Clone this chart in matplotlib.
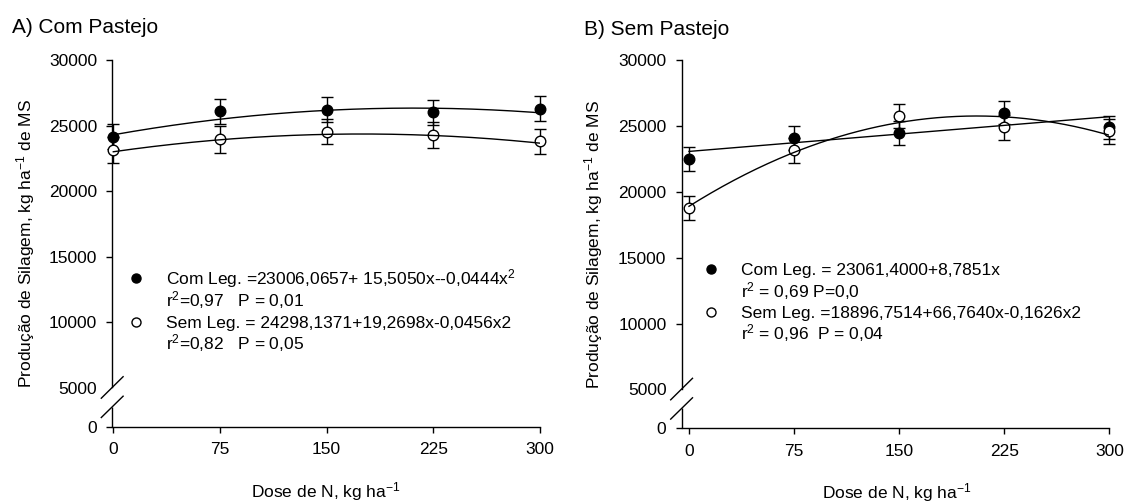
import numpy as np
import matplotlib
matplotlib.use("Agg")
import matplotlib.pyplot as plt
from matplotlib.transforms import Affine2D, ScaledTranslation

plt.rcParams["font.family"] = ["Liberation Sans", "DejaVu Sans"]
plt.rcParams["mathtext.fontset"] = "custom"
plt.rcParams["mathtext.rm"] = "Liberation Sans"
plt.rcParams["mathtext.it"] = "Liberation Sans:italic"
plt.rcParams["mathtext.default"] = "regular"

# ---- data -------------------------------------------------------------
doses = [0, 75, 150, 225, 300]

# A) Com Pastejo
a_com_mean = [24150, 26100, 26200, 26000, 26300]
a_com_err = [950, 950, 950, 950, 960]
a_sem_mean = [23150, 23950, 24550, 24300, 23800]
a_sem_err = [1000, 1010, 990, 990, 970]
a_fit_filled = [24298.1371, 19.2698, -0.0456]   # b0, b1, b2
a_fit_open = [23006.0657, 15.5050, -0.0444]

# B) Sem Pastejo
b_com_mean = [22500, 24050, 24450, 26000, 24900]
b_com_err = [910, 915, 900, 890, 860]
b_sem_mean = [18750, 23150, 25750, 24900, 24600]
b_sem_err = [910, 935, 945, 935, 955]
b_fit_filled = [23061.4000, 8.7851, 0.0]
b_fit_open = [18896.7514, 66.7640, -0.1626]

x_ticks = [0, 75, 150, 225, 300]
y_ticks = [0, 5000, 10000, 15000, 20000, 25000, 30000]

a_legend = [
    "Com Leg. =23006,0657+ 15,5050x--0,0444x$^2$",
    "r$^2$=0,97   P = 0,01",
    "Sem Leg. = 24298,1371+19,2698x-0,0456x2",
    "r$^2$=0,82   P = 0,05",
]
b_legend = [
    "Com Leg. = 23061,4000+8,7851x",
    "r$^2$ = 0,69 P=0,0",
    "Sem Leg. =18896,7514+66,7640x-0,1626x2",
    "r$^2$ = 0,96  P = 0,04",
]

# ---- broken y scale: 0-5000 compressed --------------------------------
K = 0.59


def fwd(y):
    y = np.asarray(y, float)
    return np.where(y >= 5000, y, 5000 - (5000 - y) * K)


def inv(t):
    t = np.asarray(t, float)
    return np.where(t >= 5000, t, 5000 - (5000 - t) / K)


W, H = 1125, 504
fig = plt.figure(figsize=(W / 100, H / 100), dpi=100)


def rect(x0, y_top, x1, y_bot):
    return [x0 / W, 1 - y_bot / H, (x1 - x0) / W, (y_bot - y_top) / H]


axA = fig.add_axes(rect(112.3, 60, 540, 426.7))
axB = fig.add_axes(rect(681.7, 60, 1109.3, 428.3))

FS = 12.5


def style(ax, xleft):
    ax.set_yscale("function", functions=(fwd, inv))
    ax.set_ylim(0, 30000)
    ax.set_xlim(xleft, 300)
    ax.set_xticks(x_ticks, labels=[str(v) for v in x_ticks])
    ax.set_yticks(y_ticks, labels=[str(v) for v in y_ticks])
    ax.minorticks_off()
    for s in ("top", "right"):
        ax.spines[s].set_visible(False)
    ax.spines["left"].set_bounds(5070, 30000)
    for s in ("left", "bottom"):
        ax.spines[s].set_linewidth(1.0)
    ax.tick_params(direction="out", length=4, width=1, colors="black",
                   labelsize=FS)
    ax.tick_params(axis="y", pad=7)
    ax.tick_params(axis="x", pad=7)
    ax.yaxis.get_major_ticks()[1].tick1line.set_visible(False)

    # axis break marks, in pixel offsets from the axes origin
    tr = (Affine2D().scale(1 / 100) + fig.dpi_scale_trans
          + ScaledTranslation(0, 0, ax.transAxes))
    kw = dict(transform=tr, color="black", lw=1.0, clip_on=False,
              solid_capstyle="butt")
    ax.plot([0, 0], [0, 20], **kw)
    ax.plot([-11.5, 11.3], [8.7, 31.0], **kw)
    ax.plot([-11.5, 11.3], [28.0, 50.5], **kw)


def quad(c, x):
    return c[0] + c[1] * x + c[2] * x ** 2


xs = np.linspace(0, 300, 301)


def draw(ax, com_m, com_e, sem_m, sem_e, fit_f, fit_o):
    common = dict(fmt="o", ms=7.6, mec="black", mew=1.0, ecolor="black",
                  elinewidth=1.0, capsize=4.6, capthick=1.0, zorder=3,
                  clip_on=False)
    ax.errorbar(doses, com_m, yerr=com_e, mfc="black", **common)
    ax.errorbar(doses, sem_m, yerr=sem_e, mfc="white", **common)
    ax.plot(xs, quad(fit_f, xs), color="black", lw=1.0, zorder=4)
    ax.plot(xs, quad(fit_o, xs), color="black", lw=1.0, zorder=4)


style(axA, -0.7)
style(axB, -5.2)
draw(axA, a_com_mean, a_com_err, a_sem_mean, a_sem_err, a_fit_filled, a_fit_open)
draw(axB, b_com_mean, b_com_err, b_sem_mean, b_sem_err, b_fit_filled, b_fit_open)


def ftext(x, y, s, **kw):
    fig.text(x / W, 1 - y / H, s, **kw)


def fmark(x, y, face):
    fig.add_artist(plt.Line2D([x / W], [1 - y / H], marker="o", ms=6.5,
                              mfc=face, mec="black", mew=1.0, ls="none"))


def legend(lines, mx, tx, centers):
    fmark(mx, centers[0], "black")
    fmark(mx, centers[2], "white")
    for s, c in zip(lines, centers):
        ftext(tx, c + 6.2, s, fontsize=FS, ha="left", va="baseline")


legend(a_legend, 135.5, 165.5, [277.7, 300.0, 321.7, 343.3])
legend(b_legend, 711.4, 741.0, [269.0, 290.7, 311.7, 333.3])

# titles
ftext(11.7, 32.7, "A) Com Pastejo", fontsize=15, ha="left", va="baseline")
ftext(584.0, 35.0, "B) Sem Pastejo", fontsize=15, ha="left", va="baseline")

# axis labels
ylab = "Produção de Silagem, kg ha$^{-1}$ de MS"
ftext(25.9, 243.3, ylab, fontsize=FS, rotation=90, ha="center", va="center")
ftext(594.0, 244.0, ylab, fontsize=FS, rotation=90, ha="center", va="center")
xlab = "Dose de N, kg ha$^{-1}$"
ftext(326.0, 497.5, xlab, fontsize=FS, ha="center", va="baseline")
ftext(897.0, 498.5, xlab, fontsize=FS, ha="center", va="baseline")

fig.savefig("out.png", dpi=100)
